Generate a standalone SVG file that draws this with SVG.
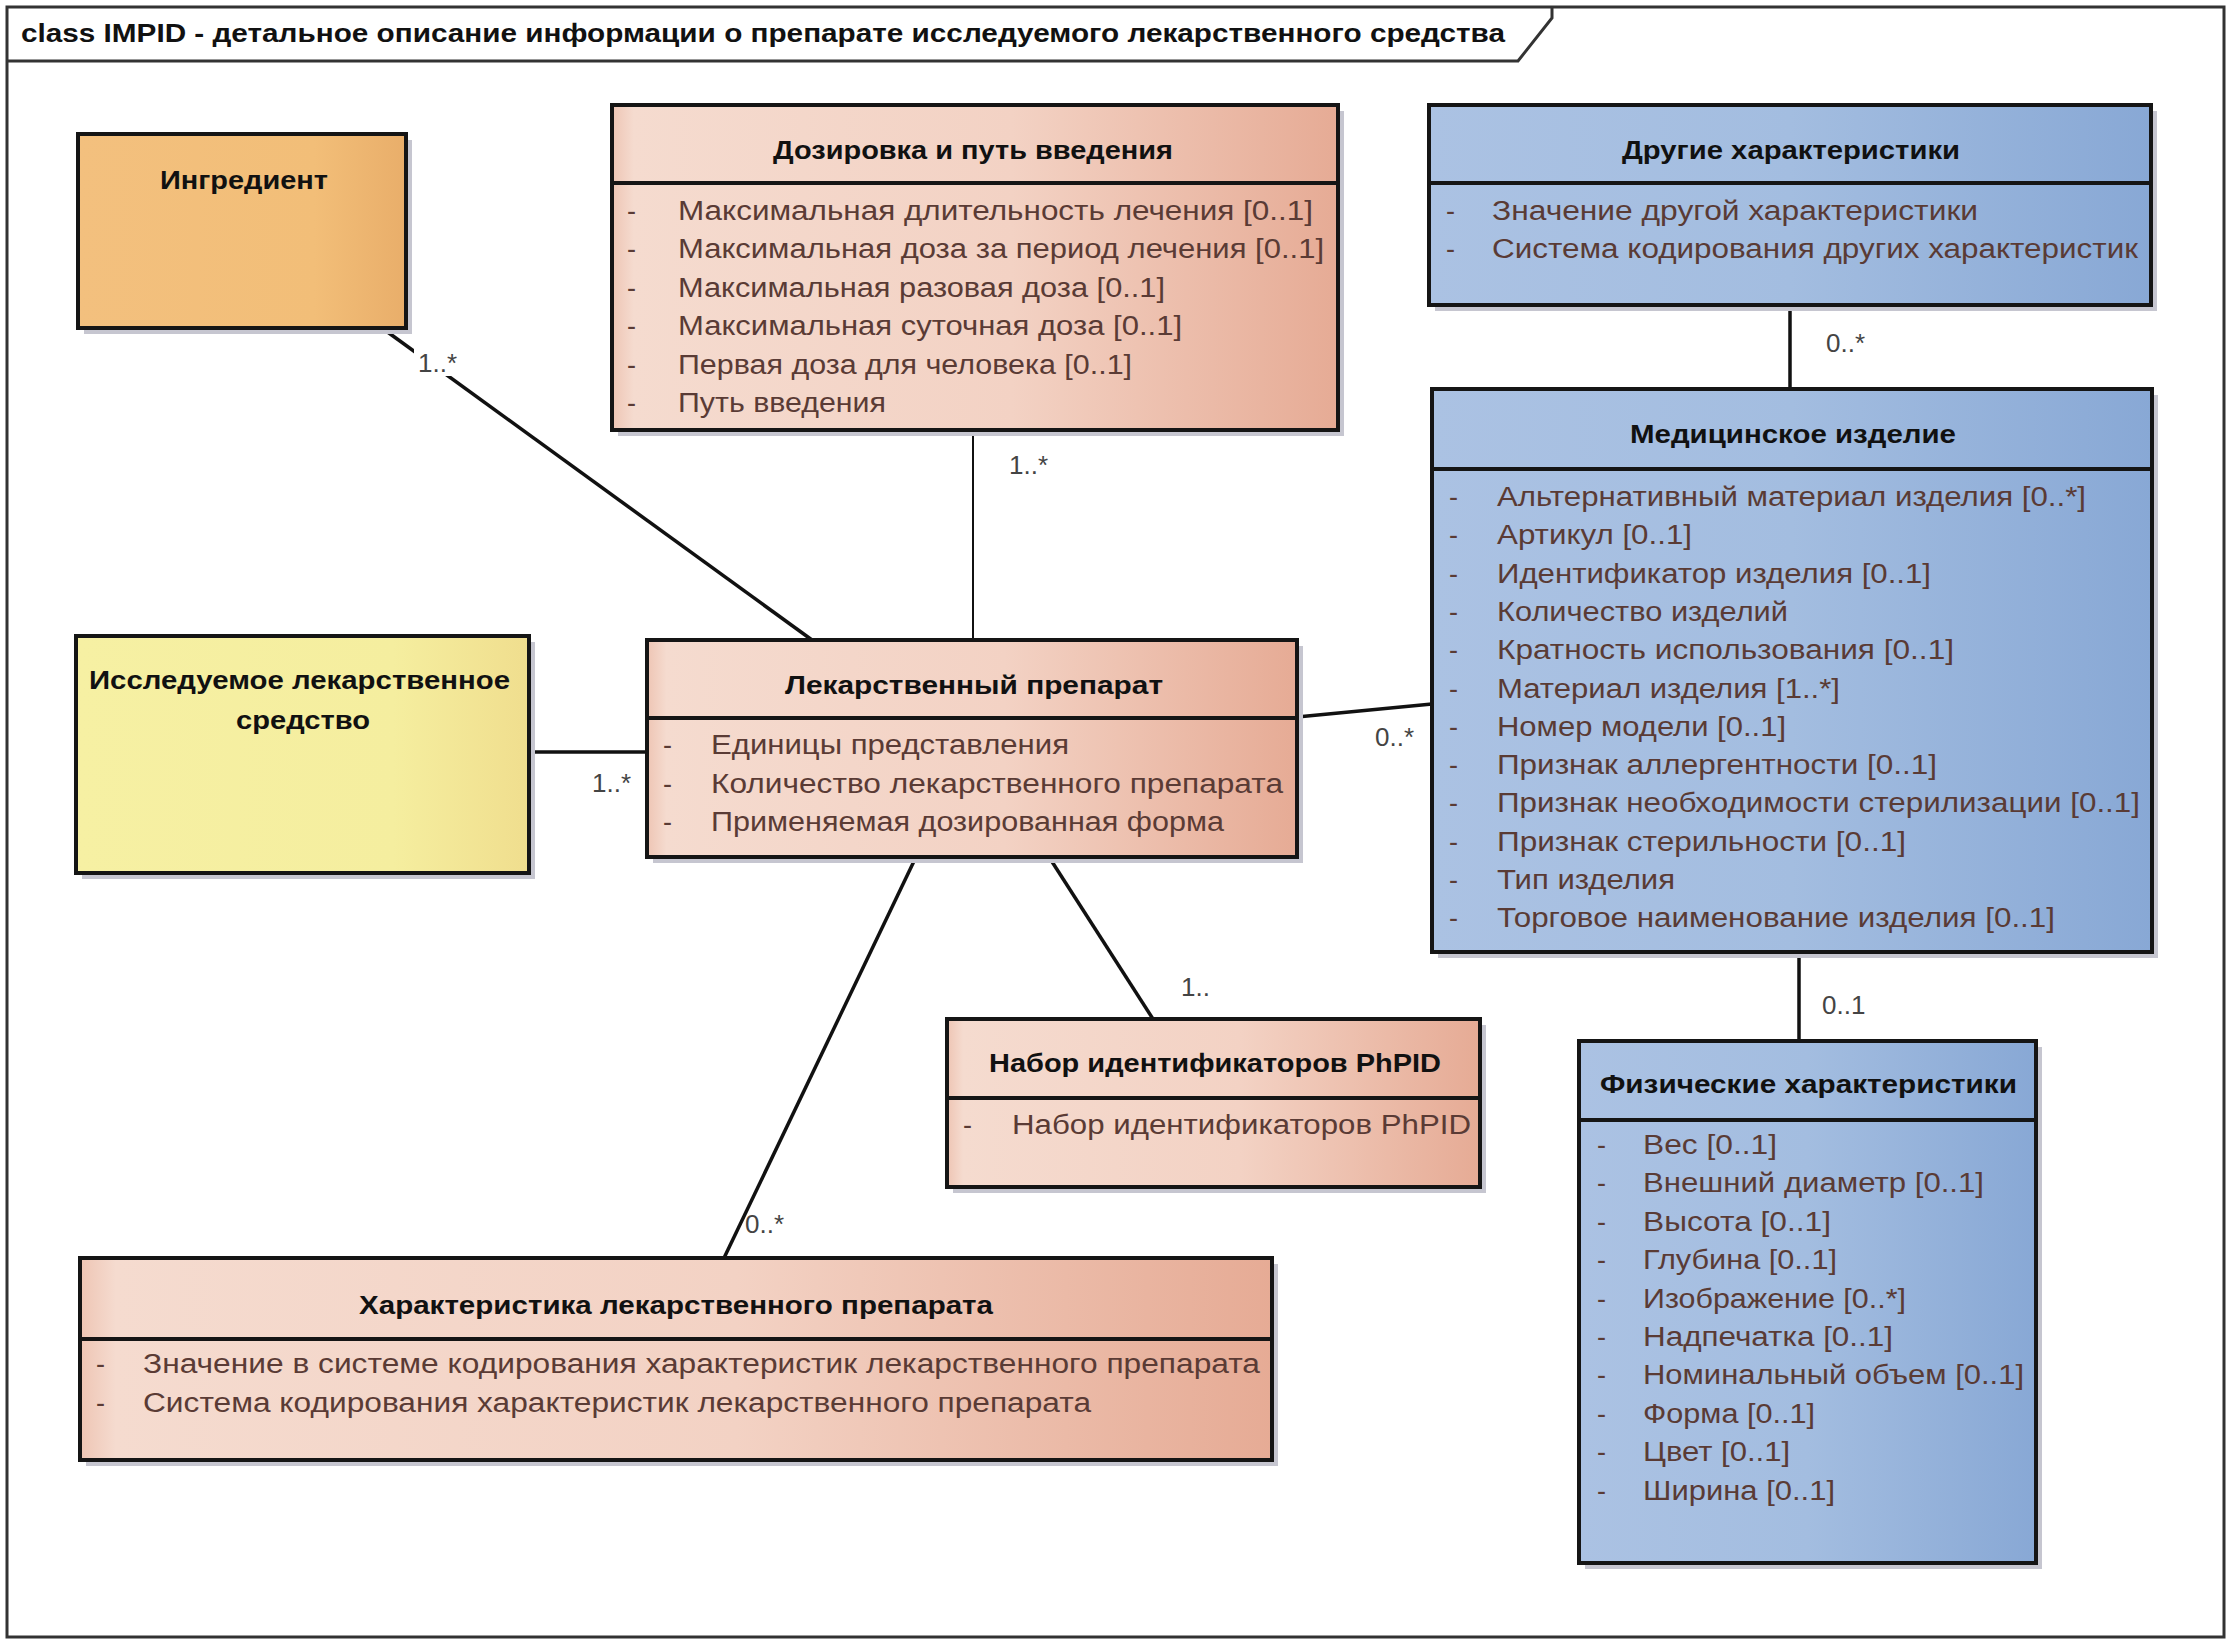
<svg xmlns="http://www.w3.org/2000/svg" width="2233" height="1643" viewBox="0 0 2233 1643">
<defs>
<linearGradient id="gSalmon" x1="0" y1="0" x2="1" y2="0">
<stop offset="0" stop-color="#EEC5B4"/><stop offset="0.03" stop-color="#F5DBCF"/><stop offset="0.55" stop-color="#F3D2C4"/><stop offset="1" stop-color="#E6AB95"/>
</linearGradient>
<linearGradient id="gBlue" x1="0" y1="0" x2="1" y2="0">
<stop offset="0" stop-color="#ABC2E3"/><stop offset="0.5" stop-color="#A3BDE0"/><stop offset="1" stop-color="#88A8D5"/>
</linearGradient>
<linearGradient id="gOrange" x1="0" y1="0" x2="1" y2="0">
<stop offset="0" stop-color="#F3C07E"/><stop offset="0.72" stop-color="#F2BE78"/><stop offset="1" stop-color="#E9AE6A"/>
</linearGradient>
<linearGradient id="gYellow" x1="0" y1="0" x2="1" y2="0">
<stop offset="0" stop-color="#F6F0A3"/><stop offset="0.7" stop-color="#F5EE9F"/><stop offset="1" stop-color="#F0DE8E"/>
</linearGradient>
</defs>
<style>
.shadow{fill:#C6C6D0}
.box{stroke:#151515;stroke-width:4}
.sal{fill:url(#gSalmon)}
.blu{fill:url(#gBlue)}
.div{stroke:#151515;stroke-width:4}
.ttl{font-family:"Liberation Sans",Arial,sans-serif;font-size:26px;font-weight:bold;fill:#111}
.att{font-family:"Liberation Sans",Arial,sans-serif;font-size:27px;fill:#5A3B35}
.dash{font-family:"Liberation Sans",Arial,sans-serif;font-size:27px;fill:#5A3B35}
.lbl{font-family:"Liberation Sans",Arial,sans-serif;font-size:26px;fill:#444}
.con{stroke:#111;stroke-width:3.5;fill:none}
.con2{stroke:#111;stroke-width:2;fill:none}
.frame{fill:none;stroke:#333;stroke-width:3}
.head{font-family:"Liberation Sans",Arial,sans-serif;font-size:26px;font-weight:bold;fill:#111}
</style>
<rect x="0" y="0" width="2233" height="1643" fill="#ffffff"/>
<g id="frame">
<rect class="frame" x="7" y="7" width="2217" height="1630"/>
<path class="frame" d="M7,61 L1518,61 L1552,18 L1552,7"/>
<text class="head" x="21" y="42" textLength="1484" lengthAdjust="spacingAndGlyphs">class IMPID -  детальное описание информации о препарате исследуемого лекарственного средства</text>
</g>
<g id="connectors">
<line class="con" x1="382" y1="328" x2="812" y2="640"/>
<rect x="414" y="349" width="48" height="27" fill="#ffffff"/>
<text class="lbl" x="418" y="372">1..*</text>
<line class="con2" x1="973" y1="430" x2="973" y2="640"/>
<text class="lbl" x="1009" y="474">1..*</text>
<line class="con" x1="529" y1="752" x2="647" y2="752"/>
<text class="lbl" x="592" y="792">1..*</text>
<line class="con" x1="1297" y1="717" x2="1432" y2="704"/>
<text class="lbl" x="1375" y="746">0..*</text>
<line class="con" x1="1790" y1="305" x2="1790" y2="389"/>
<text class="lbl" x="1826" y="352">0..*</text>
<line class="con" x1="1799" y1="952" x2="1799" y2="1041"/>
<text class="lbl" x="1822" y="1014">0..1</text>
<line class="con" x1="1049" y1="857" x2="1153" y2="1019"/>
<text class="lbl" x="1181" y="996">1..</text>
<line class="con" x1="916" y1="857" x2="724" y2="1258"/>
<text class="lbl" x="745" y="1233">0..*</text>
</g>
<g id="ingredient">
<rect class="shadow" x="84" y="140" width="328" height="194"/>
<rect class="box" x="78" y="134" width="328" height="194" fill="url(#gOrange)"/>
<text class="ttl" x="160" y="189" textLength="168" lengthAdjust="spacingAndGlyphs">Ингредиент</text>
</g>
<g id="dosage">
<rect class="shadow" x="618" y="111" width="726" height="325"/>
<rect class="box sal" x="612" y="105" width="726" height="325"/>
<line class="div" x1="612" y1="183" x2="1338" y2="183"/>
<text class="ttl" x="773" y="159" textLength="400" lengthAdjust="spacingAndGlyphs">Дозировка и путь введения</text>
<text class="dash" x="627" y="220">-</text><text class="att" x="678" y="220" textLength="635" lengthAdjust="spacingAndGlyphs">Максимальная длительность лечения [0..1]</text>
<text class="dash" x="627" y="258">-</text><text class="att" x="678" y="258" textLength="646" lengthAdjust="spacingAndGlyphs">Максимальная доза за период лечения [0..1]</text>
<text class="dash" x="627" y="297">-</text><text class="att" x="678" y="297" textLength="487" lengthAdjust="spacingAndGlyphs">Максимальная разовая доза [0..1]</text>
<text class="dash" x="627" y="335">-</text><text class="att" x="678" y="335" textLength="504" lengthAdjust="spacingAndGlyphs">Максимальная суточная доза [0..1]</text>
<text class="dash" x="627" y="374">-</text><text class="att" x="678" y="374" textLength="454" lengthAdjust="spacingAndGlyphs">Первая доза для человека [0..1]</text>
<text class="dash" x="627" y="412">-</text><text class="att" x="678" y="412" textLength="208" lengthAdjust="spacingAndGlyphs">Путь введения</text>
</g>
<g id="other">
<rect class="shadow" x="1435" y="111" width="722" height="200"/>
<rect class="box blu" x="1429" y="105" width="722" height="200"/>
<line class="div" x1="1429" y1="183" x2="2151" y2="183"/>
<text class="ttl" x="1622" y="159" textLength="338" lengthAdjust="spacingAndGlyphs">Другие характеристики</text>
<text class="dash" x="1446" y="220">-</text><text class="att" x="1492" y="220" textLength="486" lengthAdjust="spacingAndGlyphs">Значение другой характеристики</text>
<text class="dash" x="1446" y="258">-</text><text class="att" x="1492" y="258" textLength="646" lengthAdjust="spacingAndGlyphs">Система кодирования других характеристик</text>
</g>
<g id="device">
<rect class="shadow" x="1438" y="395" width="720" height="563"/>
<rect class="box blu" x="1432" y="389" width="720" height="563"/>
<line class="div" x1="1432" y1="469" x2="2152" y2="469"/>
<text class="ttl" x="1630" y="443" textLength="326" lengthAdjust="spacingAndGlyphs">Медицинское изделие</text>
<text class="dash" x="1449" y="506">-</text><text class="att" x="1497" y="506" textLength="589" lengthAdjust="spacingAndGlyphs">Альтернативный материал изделия [0..*]</text>
<text class="dash" x="1449" y="544">-</text><text class="att" x="1497" y="544" textLength="195" lengthAdjust="spacingAndGlyphs">Артикул [0..1]</text>
<text class="dash" x="1449" y="583">-</text><text class="att" x="1497" y="583" textLength="434" lengthAdjust="spacingAndGlyphs">Идентификатор изделия [0..1]</text>
<text class="dash" x="1449" y="621">-</text><text class="att" x="1497" y="621" textLength="291" lengthAdjust="spacingAndGlyphs">Количество изделий</text>
<text class="dash" x="1449" y="659">-</text><text class="att" x="1497" y="659" textLength="457" lengthAdjust="spacingAndGlyphs">Кратность использования [0..1]</text>
<text class="dash" x="1449" y="698">-</text><text class="att" x="1497" y="698" textLength="343" lengthAdjust="spacingAndGlyphs">Материал изделия [1..*]</text>
<text class="dash" x="1449" y="736">-</text><text class="att" x="1497" y="736" textLength="289" lengthAdjust="spacingAndGlyphs">Номер модели [0..1]</text>
<text class="dash" x="1449" y="774">-</text><text class="att" x="1497" y="774" textLength="440" lengthAdjust="spacingAndGlyphs">Признак аллергентности [0..1]</text>
<text class="dash" x="1449" y="812">-</text><text class="att" x="1497" y="812" textLength="643" lengthAdjust="spacingAndGlyphs">Признак необходимости стерилизации [0..1]</text>
<text class="dash" x="1449" y="851">-</text><text class="att" x="1497" y="851" textLength="409" lengthAdjust="spacingAndGlyphs">Признак стерильности [0..1]</text>
<text class="dash" x="1449" y="889">-</text><text class="att" x="1497" y="889" textLength="178" lengthAdjust="spacingAndGlyphs">Тип изделия</text>
<text class="dash" x="1449" y="927">-</text><text class="att" x="1497" y="927" textLength="558" lengthAdjust="spacingAndGlyphs">Торговое наименование изделия [0..1]</text>
</g>
<g id="imp">
<rect class="shadow" x="82" y="642" width="453" height="237"/>
<rect class="box" x="76" y="636" width="453" height="237" fill="url(#gYellow)"/>
<text class="ttl" x="89" y="689" textLength="421" lengthAdjust="spacingAndGlyphs">Исследуемое лекарственное</text>
<text class="ttl" x="236" y="729" textLength="134" lengthAdjust="spacingAndGlyphs">средство</text>
</g>
<g id="product">
<rect class="shadow" x="653" y="646" width="650" height="217"/>
<rect class="box sal" x="647" y="640" width="650" height="217"/>
<line class="div" x1="647" y1="718" x2="1297" y2="718"/>
<text class="ttl" x="785" y="694" textLength="378" lengthAdjust="spacingAndGlyphs">Лекарственный препарат</text>
<text class="dash" x="663" y="754">-</text><text class="att" x="711" y="754" textLength="358" lengthAdjust="spacingAndGlyphs">Единицы представления</text>
<text class="dash" x="663" y="793">-</text><text class="att" x="711" y="793" textLength="572" lengthAdjust="spacingAndGlyphs">Количество лекарственного препарата</text>
<text class="dash" x="663" y="831">-</text><text class="att" x="711" y="831" textLength="513" lengthAdjust="spacingAndGlyphs">Применяемая дозированная форма</text>
</g>
<g id="phpid">
<rect class="shadow" x="953" y="1025" width="533" height="168"/>
<rect class="box sal" x="947" y="1019" width="533" height="168"/>
<line class="div" x1="947" y1="1098" x2="1480" y2="1098"/>
<text class="ttl" x="989" y="1072" textLength="452" lengthAdjust="spacingAndGlyphs">Набор идентификаторов PhPID</text>
<text class="dash" x="963" y="1134">-</text><text class="att" x="1012" y="1134" textLength="459" lengthAdjust="spacingAndGlyphs">Набор идентификаторов PhPID</text>
</g>
<g id="characteristic">
<rect class="shadow" x="86" y="1264" width="1192" height="202"/>
<rect class="box sal" x="80" y="1258" width="1192" height="202"/>
<line class="div" x1="80" y1="1339" x2="1272" y2="1339"/>
<text class="ttl" x="359" y="1314" textLength="634" lengthAdjust="spacingAndGlyphs">Характеристика лекарственного препарата</text>
<text class="dash" x="96" y="1373">-</text><text class="att" x="143" y="1373" textLength="1117" lengthAdjust="spacingAndGlyphs">Значение в системе кодирования характеристик лекарственного препарата</text>
<text class="dash" x="96" y="1412">-</text><text class="att" x="143" y="1412" textLength="948" lengthAdjust="spacingAndGlyphs">Система кодирования характеристик лекарственного препарата</text>
</g>
<g id="physical">
<rect class="shadow" x="1585" y="1047" width="457" height="522"/>
<rect class="box blu" x="1579" y="1041" width="457" height="522"/>
<line class="div" x1="1579" y1="1120" x2="2036" y2="1120"/>
<text class="ttl" x="1600" y="1093" textLength="417" lengthAdjust="spacingAndGlyphs">Физические характеристики</text>
<text class="dash" x="1597" y="1154">-</text><text class="att" x="1643" y="1154" textLength="134" lengthAdjust="spacingAndGlyphs">Вес [0..1]</text>
<text class="dash" x="1597" y="1192">-</text><text class="att" x="1643" y="1192" textLength="341" lengthAdjust="spacingAndGlyphs">Внешний диаметр [0..1]</text>
<text class="dash" x="1597" y="1231">-</text><text class="att" x="1643" y="1231" textLength="188" lengthAdjust="spacingAndGlyphs">Высота [0..1]</text>
<text class="dash" x="1597" y="1269">-</text><text class="att" x="1643" y="1269" textLength="194" lengthAdjust="spacingAndGlyphs">Глубина [0..1]</text>
<text class="dash" x="1597" y="1308">-</text><text class="att" x="1643" y="1308" textLength="263" lengthAdjust="spacingAndGlyphs">Изображение [0..*]</text>
<text class="dash" x="1597" y="1346">-</text><text class="att" x="1643" y="1346" textLength="250" lengthAdjust="spacingAndGlyphs">Надпечатка [0..1]</text>
<text class="dash" x="1597" y="1384">-</text><text class="att" x="1643" y="1384" textLength="381" lengthAdjust="spacingAndGlyphs">Номинальный объем [0..1]</text>
<text class="dash" x="1597" y="1423">-</text><text class="att" x="1643" y="1423" textLength="172" lengthAdjust="spacingAndGlyphs">Форма [0..1]</text>
<text class="dash" x="1597" y="1461">-</text><text class="att" x="1643" y="1461" textLength="147" lengthAdjust="spacingAndGlyphs">Цвет [0..1]</text>
<text class="dash" x="1597" y="1500">-</text><text class="att" x="1643" y="1500" textLength="192" lengthAdjust="spacingAndGlyphs">Ширина [0..1]</text>
</g>
</svg>
